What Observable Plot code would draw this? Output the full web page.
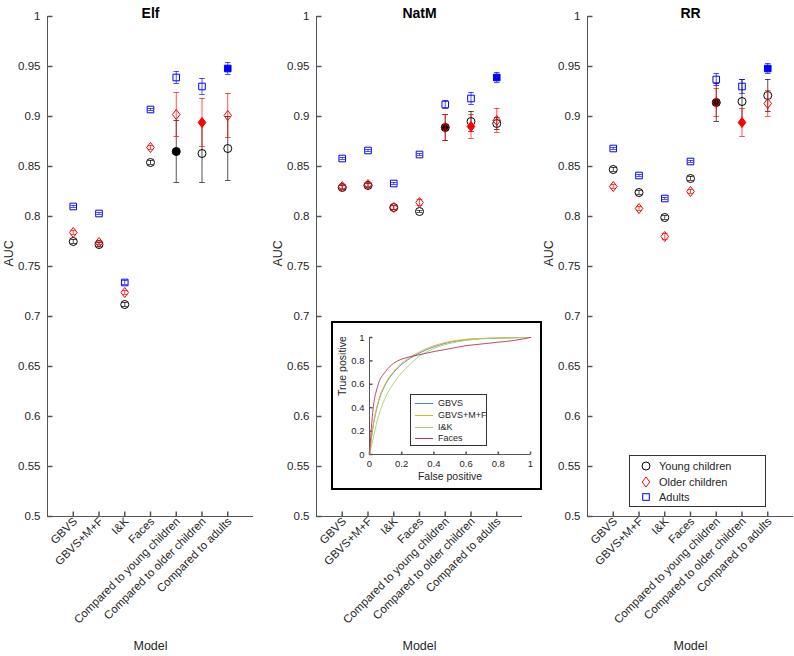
<!DOCTYPE html>
<html>
<head>
<meta charset="utf-8">
<script src="https://cdn.jsdelivr.net/npm/d3@7"></script>
<script src="https://cdn.jsdelivr.net/npm/@observablehq/plot@0.6"></script>
<style>
  html, body { margin: 0; padding: 0; background: #fff; }
  #root { position: relative; width: 794px; height: 656px; overflow: hidden; background: #fff;
          font-family: "Liberation Sans", Arial, sans-serif; }
  .abs { position: absolute; }
</style>
</head>
<body>
<div id="root"></div>
<script>
// ---------- data ----------
const models = ["GBVS", "GBVS+M+F", "I&K", "Faces", "Compared to young children", "Compared to older children", "Compared to adults"];
const xTicks = [1, 2, 3, 4, 5, 6, 7];
const yTicks = [0.5, 0.55, 0.6, 0.65, 0.7, 0.75, 0.8, 0.85, 0.9, 0.95, 1];
const groups = ["Young children", "Older children", "Adults"];

// Elf
const elfYoung      = [0.775, 0.772, 0.712, 0.854, 0.865, 0.863, 0.868];
const elfYoungErr   = [0.002, 0.002, 0.002, 0.002, 0.031, 0.029, 0.032];
const elfOlder      = [0.784, 0.774, 0.724, 0.869, 0.902, 0.894, 0.901];
const elfOlderErr   = [0.002, 0.002, 0.002, 0.002, 0.022, 0.024, 0.022];
const elfAdults     = [0.810, 0.803, 0.734, 0.907, 0.939, 0.930, 0.948];
const elfAdultsErr  = [0.001, 0.001, 0.002, 0.001, 0.006, 0.008, 0.006];

// NatM
const natYoung      = [0.829, 0.831, 0.809, 0.805, 0.889, 0.895, 0.893];
const natYoungErr   = [0.002, 0.002, 0.002, 0.001, 0.013, 0.010, 0.006];
const natOlder      = [0.830, 0.832, 0.809, 0.814, 0.889, 0.890, 0.896];
const natOlderErr   = [0.002, 0.002, 0.002, 0.003, 0.013, 0.012, 0.012];
const natAdults     = [0.858, 0.866, 0.833, 0.862, 0.912, 0.918, 0.939];
const natAdultsErr  = [0.001, 0.001, 0.001, 0.001, 0.004, 0.006, 0.005];

// RR
const rrYoung       = [0.847, 0.824, 0.799, 0.838, 0.914, 0.915, 0.921];
const rrYoungErr    = [0.002, 0.002, 0.002, 0.002, 0.019, 0.022, 0.016];
const rrOlder       = [0.830, 0.808, 0.780, 0.825, 0.914, 0.894, 0.913];
const rrOlderErr    = [0.002, 0.002, 0.003, 0.002, 0.014, 0.014, 0.013];
const rrAdults      = [0.868, 0.841, 0.818, 0.855, 0.937, 0.930, 0.948];
const rrAdultsErr   = [0.001, 0.001, 0.001, 0.001, 0.006, 0.007, 0.005];

// index of the model in which each group is filled ("Compared to ...")
const filledIndex = [4, 5, 6];

// ROC inset
const rocSeries = ["GBVS", "GBVS+M+F", "I&K", "Faces"];
const fpr        = [0, 0.01, 0.02, 0.05, 0.1, 0.15, 0.2, 0.25, 0.3, 0.4, 0.5, 0.6, 0.7, 0.8, 0.9, 1];
const tprGBVS    = [0, 0.12, 0.22, 0.42, 0.60, 0.70, 0.77, 0.82, 0.86, 0.92, 0.960, 0.980, 0.990, 0.995, 0.998, 1];
const tprGBVSMF  = [0, 0.12, 0.22, 0.43, 0.61, 0.71, 0.78, 0.83, 0.87, 0.93, 0.965, 0.985, 0.993, 0.997, 0.999, 1];
const tprIK      = [0, 0.06, 0.12, 0.30, 0.49, 0.61, 0.70, 0.77, 0.83, 0.905, 0.950, 0.975, 0.990, 0.995, 0.998, 1];
const tprFaces   = [0, 0.20, 0.36, 0.58, 0.71, 0.78, 0.815, 0.835, 0.85, 0.88, 0.905, 0.930, 0.945, 0.960, 0.975, 1];
const rocTicks   = [0, 0.2, 0.4, 0.6, 0.8, 1];

// ---------- styles ----------
const FONT = "Liberation Sans, Arial, sans-serif";
const AXIS = "#555555";
const TXT = "#262626";
const groupColors = ["#000000", "#ff0000", "#0000ff"];
const errColors = ["#000000", "#ff0000", "#0000ff"];
const rocColors = ["#3a8fd0", "#edb120", "#a9d16b", "#b8325d"];

const circleSym = {draw(ctx) { ctx.moveTo(4, 0); ctx.arc(0, 0, 4, 0, 2 * Math.PI); ctx.closePath(); }};
const diamondSym = {draw(ctx) { ctx.moveTo(0, -5); ctx.lineTo(3.8, 0); ctx.lineTo(0, 5); ctx.lineTo(-3.8, 0); ctx.closePath(); }};
const squareSym = {draw(ctx) { ctx.moveTo(-3.3, -3.3); ctx.lineTo(3.3, -3.3); ctx.lineTo(3.3, 3.3); ctx.lineTo(-3.3, 3.3); ctx.closePath(); }};
const groupSyms = [circleSym, diamondSym, squareSym];
const capSym = {draw(ctx) { ctx.moveTo(-2.8, 0); ctx.lineTo(2.8, 0); }};
const yTickSym = (len) => ({draw(ctx) { ctx.moveTo(0, 0); ctx.lineTo(len, 0); }});
const xTickSym = (len) => ({draw(ctx) { ctx.moveTo(0, 0); ctx.lineTo(0, -len); }});

const root = document.getElementById("root");

function panel(title, series, errs, left, width) {
  const marks = [
    Plot.ruleX([0], {stroke: AXIS, strokeWidth: 1}),
    Plot.ruleY([0.5], {stroke: AXIS, strokeWidth: 1}),
    Plot.dot(yTicks, {x: 0, y: d => d, symbol: yTickSym(5), fill: "none", stroke: AXIS}),
    Plot.dot(xTicks, {x: d => d, y: 0.5, symbol: xTickSym(5), fill: "none", stroke: AXIS}),
    Plot.axisY({ticks: yTicks, tickSize: 0, tickPadding: 7, tickFormat: d => String(+d.toFixed(2)), label: null, fontSize: 11.5, color: TXT}),
    Plot.axisX({ticks: xTicks, tickSize: 0, tickPadding: 3, dx: 2, tickRotate: -45, tickFormat: i => models[i - 1], label: null, fontSize: 11.5, color: TXT}),
    Plot.text([title], {frameAnchor: "top", dy: -8, fontWeight: "bold", fontSize: 14, fill: "#000"}),
    Plot.text(["Model"], {frameAnchor: "bottom", dy: 133, fontSize: 12.5, fill: TXT}),
    Plot.text(["AUC"], {frameAnchor: "left", dx: -39, rotate: -90, fontSize: 12.5, fill: TXT})
  ];
  series.forEach((vals, g) => {
    const rows = vals.map((v, i) => ({x: xTicks[i], y: v, lo: v - errs[g][i], hi: v + errs[g][i], filled: i === filledIndex[g]}));
    marks.push(
      Plot.ruleX(rows, {x: "x", y1: "lo", y2: "hi", stroke: errColors[g], strokeWidth: 0.9, strokeOpacity: 0.75}),
      Plot.dot(rows, {x: "x", y: "lo", symbol: capSym, fill: "none", stroke: errColors[g], strokeWidth: 0.9, strokeOpacity: 0.75}),
      Plot.dot(rows, {x: "x", y: "hi", symbol: capSym, fill: "none", stroke: errColors[g], strokeWidth: 0.9, strokeOpacity: 0.75}),
      Plot.dot(rows.filter(d => !d.filled), {x: "x", y: "y", symbol: groupSyms[g], fill: "none", stroke: groupColors[g], strokeWidth: 1}),
      Plot.dot(rows.filter(d => d.filled), {x: "x", y: "y", symbol: groupSyms[g], fill: groupColors[g], stroke: groupColors[g], strokeWidth: 1})
    );
  });
  const svg = Plot.plot({
    width, height: 656,
    marginLeft: 47, marginRight: width - 47 - 206, marginTop: 16, marginBottom: 140,
    x: {domain: [0, 8], axis: null},
    y: {domain: [0.5, 1], axis: null},
    style: {fontFamily: FONT, fontSize: "11.5px", color: TXT, background: "transparent", overflow: "visible"},
    marks
  });
  svg.classList.add("abs");
  svg.style.left = left + "px";
  svg.style.top = "0px";
  root.appendChild(svg);
}

panel("Elf", [elfYoung, elfOlder, elfAdults], [elfYoungErr, elfOlderErr, elfAdultsErr], 0, 270);
panel("NatM", [natYoung, natOlder, natAdults], [natYoungErr, natOlderErr, natAdultsErr], 269, 270);
panel("RR", [rrYoung, rrOlder, rrAdults], [rrYoungErr, rrOlderErr, rrAdultsErr], 540, 254);

// ---------- inset ROC ----------
const inset = document.createElement("div");
inset.className = "abs";
Object.assign(inset.style, {left: "331px", top: "321px", width: "211px", height: "169px", border: "2px solid #000", boxSizing: "border-box", background: "#fff"});
root.appendChild(inset);

const rocTprs = [tprGBVS, tprGBVSMF, tprIK, tprFaces];
const rocRows = rocTprs.flatMap((t, s) => fpr.map((f, i) => ({series: rocSeries[s], x: f, y: t[i]})));
const insetSvg = Plot.plot({
  width: 207, height: 165,
  marginLeft: 36, marginRight: 10, marginTop: 14, marginBottom: 34,
  x: {domain: [0, 1], axis: null},
  y: {domain: [0, 1], axis: null},
  color: {domain: rocSeries, range: rocColors},
  style: {fontFamily: FONT, fontSize: "9.5px", color: TXT, background: "transparent", overflow: "visible"},
  marks: [
    Plot.ruleX([0], {stroke: AXIS}),
    Plot.ruleY([0], {stroke: AXIS}),
    Plot.dot(rocTicks, {x: 0, y: d => d, symbol: yTickSym(3), fill: "none", stroke: AXIS}),
    Plot.dot(rocTicks, {x: d => d, y: 0, symbol: xTickSym(3), fill: "none", stroke: AXIS}),
    Plot.axisY({ticks: rocTicks, tickSize: 0, tickPadding: 5, tickFormat: d => String(+d.toFixed(1)), label: null, fontSize: 9.5, color: TXT}),
    Plot.axisX({ticks: rocTicks, tickSize: 0, tickPadding: 6, tickFormat: d => String(+d.toFixed(1)), label: null, fontSize: 9.5, color: TXT}),
    Plot.text(["False positive"], {frameAnchor: "bottom", dy: 25, fontSize: 10.5, fill: TXT}),
    Plot.text(["True positive"], {frameAnchor: "left", dx: -27, rotate: -90, fontSize: 10.5, fill: TXT}),
    Plot.line(rocRows, {x: "x", y: "y", z: "series", stroke: "series", strokeWidth: 0.9, curve: "monotone-x"})
  ]
});
insetSvg.classList.add("abs");
insetSvg.style.left = "0px";
insetSvg.style.top = "0px";
inset.appendChild(insetSvg);

// inset legend
const il = document.createElement("div");
il.className = "abs";
Object.assign(il.style, {left: "77px", top: "71px", width: "77px", height: "52px", border: "1px solid #333", boxSizing: "border-box", background: "#fff", fontSize: "9px", color: TXT, fontFamily: FONT});
rocSeries.forEach((name, i) => {
  const row = document.createElement("div");
  Object.assign(row.style, {position: "absolute", left: "4px", top: (3 + i * 11.8) + "px", height: "11px", lineHeight: "11px", whiteSpace: "nowrap"});
  row.innerHTML = `<svg width="18" height="11" style="vertical-align:top"><line x1="0" y1="5.5" x2="18" y2="5.5" stroke="${rocColors[i]}" stroke-width="1"/></svg><span style="margin-left:5px">${name}</span>`;
  il.appendChild(row);
});
inset.appendChild(il);

// ---------- main legend (RR panel) ----------
const lg = document.createElement("div");
lg.className = "abs";
Object.assign(lg.style, {left: "629px", top: "455px", width: "137px", height: "52px", border: "1px solid #333", boxSizing: "border-box", background: "#fff", fontSize: "11px", color: TXT, fontFamily: FONT});
const legendSyms = [
  `<circle cx="8" cy="7" r="4" fill="none" stroke="#000"/>`,
  `<path d="M8,2L11.8,7L8,12L4.2,7Z" fill="none" stroke="#f00"/>`,
  `<rect x="4.7" y="3.7" width="6.6" height="6.6" fill="none" stroke="#00f"/>`
];
groups.forEach((name, i) => {
  const row = document.createElement("div");
  Object.assign(row.style, {position: "absolute", left: "8px", top: (3 + i * 15.5) + "px", height: "14px", lineHeight: "14px", whiteSpace: "nowrap"});
  row.innerHTML = `<svg width="16" height="14" style="vertical-align:top">${legendSyms[i]}</svg><span style="margin-left:5px">${name}</span>`;
  lg.appendChild(row);
});
root.appendChild(lg);
</script>
</body>
</html>
